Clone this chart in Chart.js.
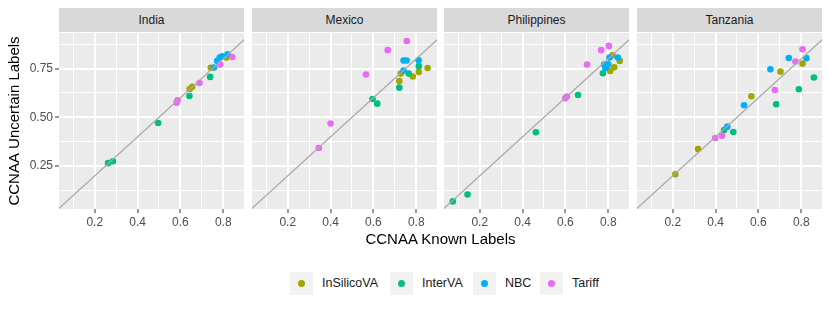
<!DOCTYPE html>
<html>
<head>
<meta charset="utf-8">
<script src="https://cdn.jsdelivr.net/npm/chart.js@4.4.1/dist/chart.umd.min.js"></script>
<style>
    body { margin: 0; background: #fff; font-family: "Liberation Sans", Arial, sans-serif; }
    #wrap { position: relative; width: 830px; height: 312px; overflow: hidden; }
    #wrap canvas { position: absolute; }
    .strip { position: absolute; top: 8px; height: 24px; background: #d9d9d9; color: #1a1a1a; font-size: 12px; display: flex; align-items: center; justify-content: center; }
    #xtitle { position: absolute; left: 59px; width: 763px; top: 230px; text-align: center; font-size: 15px; color: #000; }
    .key { position: absolute; top: 272px; width: 23px; height: 23px; background: #f2f2f2; }
    .key span { position: absolute; left: 8px; top: 8px; width: 7px; height: 7px; border-radius: 50%; }
    .lbl { position: absolute; top: 276px; font-size: 12.5px; color: #1a1a1a; }
</style>
</head>
<body>
<div id="wrap"></div>
<script>
// facets and methods
const countries = ['India', 'Mexico', 'Philippines', 'Tanzania'];
const methods = ['InSilicoVA', 'InterVA', 'NBC', 'Tariff'];
const methodColors = ['#A3A500', '#00BF7D', '#00B0F6', '#E76BF3'];

// [known, uncertain] pairs
const indiaInSilicoVA = [[0.643, 0.645], [0.655, 0.656], [0.742, 0.754], [0.815, 0.806]];
const indiaInterVA = [[0.262, 0.265], [0.285, 0.275], [0.496, 0.471], [0.642, 0.609], [0.739, 0.707]];
const indiaNBC = [[0.757, 0.755], [0.772, 0.789], [0.784, 0.806], [0.795, 0.813], [0.820, 0.823]];
const indiaTariff = [[0.582, 0.575], [0.587, 0.587], [0.689, 0.676], [0.786, 0.770], [0.842, 0.809]];

const mexicoInSilicoVA = [[0.728, 0.724], [0.721, 0.686], [0.784, 0.709], [0.812, 0.732], [0.853, 0.753]];
const mexicoInterVA = [[0.596, 0.594], [0.618, 0.570], [0.721, 0.652], [0.765, 0.724], [0.812, 0.762]];
const mexicoNBC = [[0.741, 0.791], [0.755, 0.791], [0.811, 0.792], [0.741, 0.739]];
const mexicoTariff = [[0.345, 0.343], [0.400, 0.468], [0.565, 0.719], [0.667, 0.844], [0.756, 0.891]];

const philippinesInSilicoVA = [[0.820, 0.818], [0.854, 0.789], [0.828, 0.756], [0.809, 0.737]];
const philippinesInterVA = [[0.074, 0.069], [0.143, 0.104], [0.462, 0.423], [0.659, 0.614], [0.775, 0.726]];
const philippinesNBC = [[0.806, 0.806], [0.845, 0.806], [0.781, 0.770], [0.792, 0.763], [0.800, 0.772], [0.787, 0.752]];
const philippinesTariff = [[0.599, 0.597], [0.607, 0.606], [0.701, 0.770], [0.767, 0.844], [0.803, 0.866]];

const tanzaniaInSilicoVA = [[0.212, 0.208], [0.318, 0.337], [0.567, 0.608], [0.703, 0.734], [0.806, 0.775]];
const tanzaniaInterVA = [[0.440, 0.435], [0.483, 0.425], [0.683, 0.567], [0.789, 0.644], [0.859, 0.704]];
const tanzaniaNBC = [[0.455, 0.452], [0.533, 0.562], [0.656, 0.746], [0.742, 0.804], [0.824, 0.803]];
const tanzaniaTariff = [[0.398, 0.394], [0.430, 0.406], [0.677, 0.640], [0.773, 0.786], [0.806, 0.849]];

const panelData = [
    [indiaInSilicoVA, indiaInterVA, indiaNBC, indiaTariff],
    [mexicoInSilicoVA, mexicoInterVA, mexicoNBC, mexicoTariff],
    [philippinesInSilicoVA, philippinesInterVA, philippinesNBC, philippinesTariff],
    [tanzaniaInSilicoVA, tanzaniaInterVA, tanzaniaNBC, tanzaniaTariff]
];

// identity line y = x
const diagonal = [0, 1];

const xLimits = [0.033, 0.897];
const yLimits = [0.03, 0.932];
const xMajorTicks = [0.2, 0.4, 0.6, 0.8];
const xMinorTicks = [0.1, 0.3, 0.5, 0.7];
const yMajorTicks = [0.25, 0.5, 0.75];
const yMinorTicks = [0.125, 0.375, 0.625, 0.875];

// layout (px)
const panelLefts = [59, 252, 444, 637];
const panelWidth = 185;
const panelTop = 33;
const panelHeight = 176;
const xAxisHeight = 26;

Chart.defaults.font.family = '"Liberation Sans", Arial, sans-serif';

const panelBg = {
    id: 'panelBg',
    beforeDraw(chart) {
        const a = chart.chartArea, c = chart.ctx;
        c.save();
        c.fillStyle = '#EBEBEB';
        c.fillRect(a.left, a.top, a.right - a.left, a.bottom - a.top);
        c.restore();
    }
};

const wrap = document.getElementById('wrap');

function gridFor(major) {
    return {
        color: '#FFFFFF',
        lineWidth: ctx => (ctx.tick && major.includes(ctx.tick.value)) ? 2 : 1,
        tickColor: ctx => (ctx.tick && major.includes(ctx.tick.value)) ? '#333333' : 'rgba(0,0,0,0)',
        tickLength: 4,
        tickWidth: 1
    };
}

function buildPanel(i) {
    const first = i === 0;
    const left = first ? 0 : panelLefts[i];
    const w = first ? panelLefts[0] + panelWidth : panelWidth;
    const h = panelHeight + xAxisHeight;

    const canvas = document.createElement('canvas');
    canvas.width = w; canvas.height = h;
    canvas.style.left = left + 'px';
    canvas.style.top = panelTop + 'px';
    canvas.style.width = w + 'px';
    canvas.style.height = h + 'px';
    wrap.appendChild(canvas);

    const strip = document.createElement('div');
    strip.className = 'strip';
    strip.style.left = panelLefts[i] + 'px';
    strip.style.width = panelWidth + 'px';
    strip.textContent = countries[i];
    wrap.appendChild(strip);

    const datasets = [{
        type: 'line',
        data: diagonal.map(v => ({ x: v, y: v })),
        borderColor: '#A9A9A9',
        borderWidth: 1.2,
        pointRadius: 0,
        order: 0
    }];
    panelData[i].forEach((pts, m) => {
        datasets.push({
            type: 'scatter',
            label: methods[m],
            data: pts.map(p => ({ x: p[0], y: p[1] })),
            backgroundColor: methodColors[m],
            borderWidth: 0,
            pointRadius: 3.3,
            order: 4 - m
        });
    });

    const yGrid = gridFor(yMajorTicks);
    if (!first) { yGrid.drawTicks = false; yGrid.tickLength = 0; }

    new Chart(canvas, {
        data: { datasets },
        options: {
            responsive: false,
            animation: false,
            devicePixelRatio: 1,
            events: [],
            layout: { padding: 0, autoPadding: false },
            plugins: { legend: { display: false }, tooltip: { enabled: false } },
            scales: {
                x: {
                    type: 'linear',
                    min: xLimits[0], max: xLimits[1],
                    afterBuildTicks: s => { s.ticks = xMinorTicks.concat(xMajorTicks).sort((a, b) => a - b).map(v => ({ value: v })); },
                    afterFit: s => { s.height = xAxisHeight; s.paddingLeft = 0; s.paddingRight = 0; },
                    ticks: {
                        autoSkip: false, maxRotation: 0, padding: 2,
                        color: '#4D4D4D', font: { size: 12 },
                        callback: v => xMajorTicks.includes(v) ? v.toFixed(1) : ''
                    },
                    grid: gridFor(xMajorTicks),
                    border: { display: false }
                },
                y: {
                    type: 'linear',
                    min: yLimits[0], max: yLimits[1],
                    afterBuildTicks: s => { s.ticks = yMinorTicks.concat(yMajorTicks).sort((a, b) => a - b).map(v => ({ value: v })); },
                    afterFit: s => { s.width = first ? panelLefts[0] : 0; s.paddingTop = 0; s.paddingBottom = 0; },
                    ticks: {
                        display: first, autoSkip: false, padding: 2,
                        color: '#4D4D4D', font: { size: 12 },
                        callback: v => yMajorTicks.includes(v) ? v.toFixed(2) : ''
                    },
                    grid: yGrid,
                    border: { display: false },
                    title: {
                        display: first,
                        text: 'CCNAA Uncertain Labels',
                        color: '#000', font: { size: 15 },
                        padding: { top: 6, bottom: 0 }
                    }
                }
            }
        },
        plugins: [panelBg]
    });
}

countries.forEach((c, i) => buildPanel(i));

// x axis title
const xt = document.createElement('div');
xt.id = 'xtitle';
xt.textContent = 'CCNAA Known Labels';
wrap.appendChild(xt);

// legend
const keyLefts = [290, 390, 473, 540];
methods.forEach((m, k) => {
    const key = document.createElement('div');
    key.className = 'key';
    key.style.left = keyLefts[k] + 'px';
    const dot = document.createElement('span');
    dot.style.background = methodColors[k];
    key.appendChild(dot);
    wrap.appendChild(key);
    const lbl = document.createElement('div');
    lbl.className = 'lbl';
    lbl.style.left = (keyLefts[k] + 32) + 'px';
    lbl.textContent = m;
    wrap.appendChild(lbl);
});
</script>
</body>
</html>
